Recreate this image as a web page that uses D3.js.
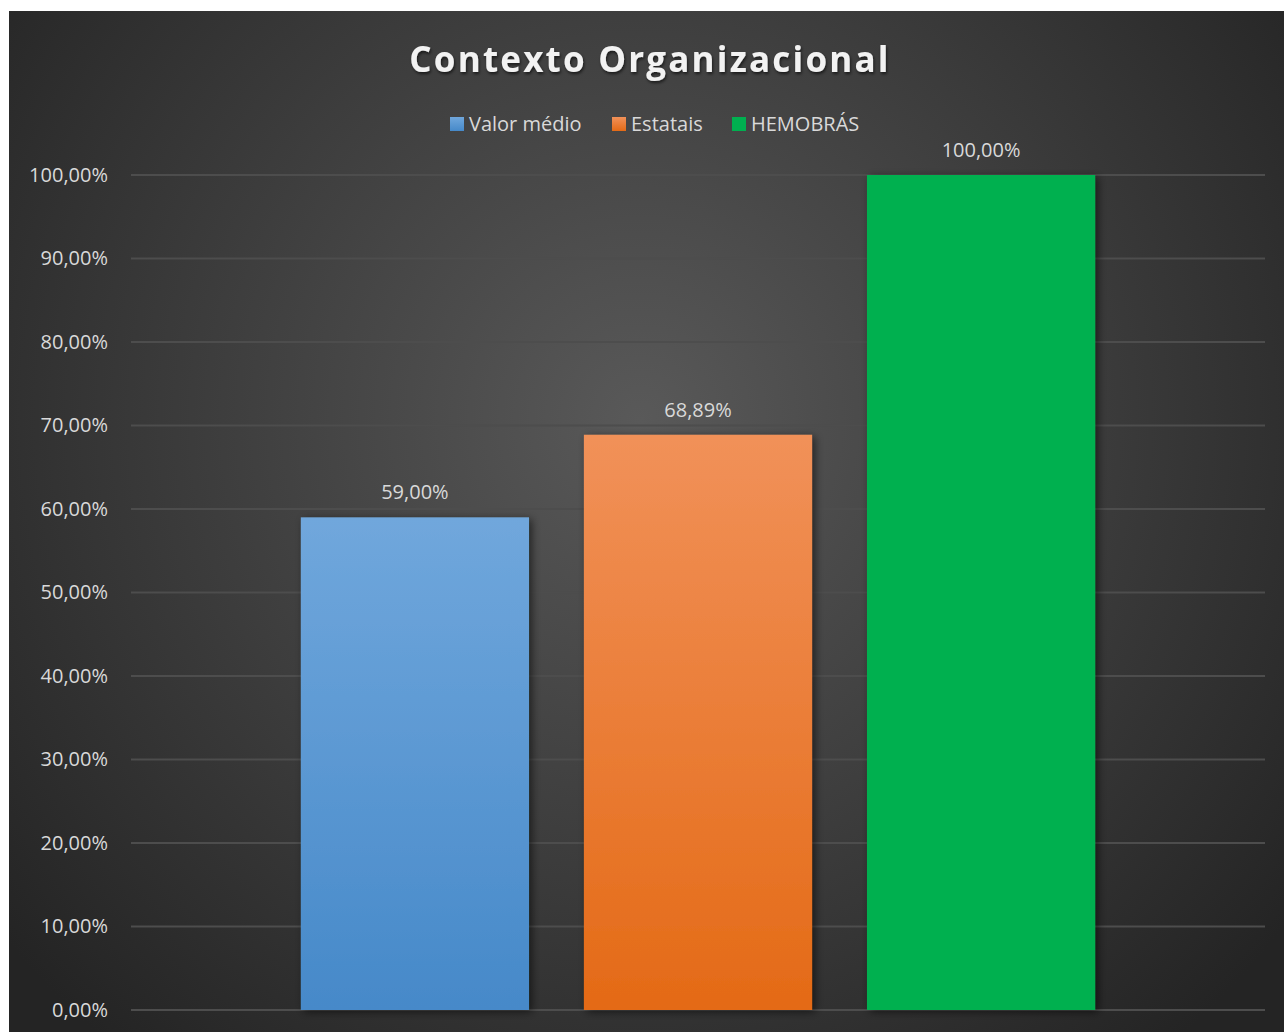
<!DOCTYPE html>
<html lang="pt">
<head>
    <meta charset="UTF-8">
    <title>Contexto Organizacional</title>
    <script src="https://d3js.org/d3.v7.min.js"></script>
    <style>
        body { margin: 0; background: #fff; }
        svg { display: block; font-family: "Open Sans", sans-serif; }
    </style>
</head>
<body>
<div class="chart"></div>
<script>
    // data
    const series = ["Valor médio", "Estatais", "HEMOBRÁS"];
    const values = [0.59, 0.6889, 1.0];
    const yTicks = [0, 0.1, 0.2, 0.3, 0.4, 0.5, 0.6, 0.7, 0.8, 0.9, 1.0];
    const colorsTop = ["#70a7dc", "#f19159", "#00b050"];
    const colorsBottom = ["#4689c9", "#e46a16", "#00b050"];

    const W = 1284, H = 1032;
    const plot = { left: 131, right: 1265, top: 175, bottom: 1010 };

    const svg = d3.select(".chart").append("svg")
        .attr("width", W)
        .attr("height", H);

    const defs = svg.append("defs");

    // background glow
    const bg = defs.append("radialGradient")
        .attr("id", "bg")
        .attr("gradientUnits", "userSpaceOnUse")
        .attr("cx", 640).attr("cy", 420).attr("r", 820);
    bg.append("stop").attr("offset", "0%").attr("stop-color", "#595959");
    bg.append("stop").attr("offset", "100%").attr("stop-color", "#242424");

    series.forEach((s, i) => {
        const g = defs.append("linearGradient")
            .attr("id", "bar" + i)
            .attr("x1", 0).attr("y1", 0).attr("x2", 0).attr("y2", 1);
        g.append("stop").attr("offset", "0%").attr("stop-color", colorsTop[i]);
        g.append("stop").attr("offset", "100%").attr("stop-color", colorsBottom[i]);
    });

    const shadow = defs.append("filter").attr("id", "shadow")
        .attr("x", "-10%").attr("y", "-10%").attr("width", "130%").attr("height", "120%");
    shadow.append("feDropShadow")
        .attr("dx", 3).attr("dy", 2).attr("stdDeviation", 4)
        .attr("flood-color", "#000").attr("flood-opacity", 0.55);

    const tshadow = defs.append("filter").attr("id", "tshadow");
    tshadow.append("feDropShadow")
        .attr("dx", 1).attr("dy", 2).attr("stdDeviation", 1.5)
        .attr("flood-color", "#000").attr("flood-opacity", 0.6);

    svg.append("rect")
        .attr("x", 9).attr("y", 11)
        .attr("width", W - 9).attr("height", H - 11)
        .attr("fill", "url(#bg)");

    // scales
    const x = d3.scaleBand()
        .domain(series)
        .range([plot.left, plot.right])
        .paddingInner(0.194)
        .paddingOuter(0.6);

    const y = d3.scaleLinear()
        .domain([0, 1])
        .range([plot.bottom, plot.top]);

    const fmt = v => d3.format(".2f")(v * 100).replace(".", ",") + "%";

    // gridlines
    svg.append("g")
        .selectAll("line")
        .data(yTicks)
        .join("line")
        .attr("x1", plot.left).attr("x2", plot.right)
        .attr("y1", d => y(d)).attr("y2", d => y(d))
        .attr("stroke", "#4d4d4d")
        .attr("stroke-width", 2);

    // y axis
    const yAxis = svg.append("g")
        .attr("transform", `translate(${plot.left - 14},0)`)
        .call(d3.axisLeft(y).tickValues(yTicks).tickFormat(fmt).tickSize(0).tickPadding(9));
    yAxis.select(".domain").remove();
    yAxis.selectAll("text")
        .attr("fill", "#d9d9d9")
        .style("font-size", "20px")
        .style("font-family", "Open Sans, sans-serif");

    // bars
    svg.append("g")
        .selectAll("rect")
        .data(values)
        .join("rect")
        .attr("x", (d, i) => x(series[i]))
        .attr("y", d => y(d))
        .attr("width", x.bandwidth())
        .attr("height", d => y(0) - y(d))
        .attr("fill", (d, i) => `url(#bar${i})`)
        .attr("filter", "url(#shadow)");

    // data labels
    svg.append("g")
        .selectAll("text")
        .data(values)
        .join("text")
        .attr("x", (d, i) => x(series[i]) + x.bandwidth() / 2)
        .attr("y", d => y(d) - 18)
        .attr("text-anchor", "middle")
        .attr("fill", "#d9d9d9")
        .style("font-size", "20px")
        .text(fmt);

    // title
    svg.append("text")
        .attr("x", 650)
        .attr("y", 72)
        .attr("text-anchor", "middle")
        .attr("fill", "#f2f2f2")
        .attr("filter", "url(#tshadow)")
        .style("font-size", "35px")
        .style("font-weight", "bold")
        .style("letter-spacing", "2.2px")
        .text("Contexto Organizacional");

    // legend
    const legendX = [450, 612, 732];
    const legend = svg.append("g");
    series.forEach((s, i) => {
        legend.append("rect")
            .attr("x", legendX[i]).attr("y", 117)
            .attr("width", 14).attr("height", 14)
            .attr("fill", `url(#bar${i})`);
        legend.append("text")
            .attr("x", legendX[i] + 19)
            .attr("y", 131)
            .attr("fill", "#d9d9d9")
            .style("font-size", "20px")
            .text(s);
    });
</script>
</body>
</html>
